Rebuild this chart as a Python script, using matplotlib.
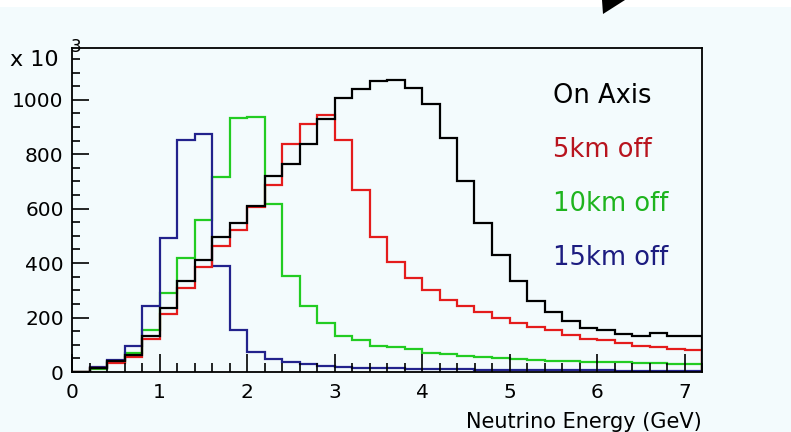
import numpy as np
import matplotlib.pyplot as plt
from matplotlib.ticker import MultipleLocator
from matplotlib.patches import Polygon, Rectangle

# Energy bins (GeV), 0.2 GeV wide
edges = np.round(np.arange(0, 7.2001, 0.2), 1)

# Neutrino counts per bin (x 10^3)
on_axis = [0, 14, 41, 63, 133, 235, 336, 410, 495, 548, 610, 720,
           764, 838, 930, 1005, 1038, 1070, 1072, 1042, 983, 859, 700, 547,
           430, 333, 259, 222, 186, 163, 155, 140, 134, 142, 134, 134]
off_5km = [0, 15, 33, 54, 121, 213, 310, 386, 464, 522, 605, 685,
           838, 910, 943, 853, 670, 494, 404, 345, 301, 265, 243, 222,
           198, 181, 167, 155, 137, 122, 117, 106, 95, 90, 86, 79]
off_10km = [0, 12, 38, 68, 155, 289, 420, 557, 715, 933, 937, 616,
            353, 241, 180, 133, 117, 97, 90, 84, 70, 65, 60, 56,
            52, 46, 44, 42, 40, 38, 37, 35, 34, 32, 31, 30]
off_15km = [0, 18, 45, 97, 243, 492, 852, 873, 389, 155, 75, 48,
            35, 29, 21, 17, 15, 14, 13, 12, 11, 10, 10, 9,
            9, 8, 8, 7, 7, 6, 6, 5, 5, 5, 4, 4]

labels = ["On Axis", "5km off", "10km off", "15km off"]
line_colors = ["black", "#e41c1c", "#22cc22", "#22228c"]
text_colors = ["black", "#b8141e", "#1eb41e", "#1c1c80"]

bg = "#f3fbfd"
fig = plt.figure(figsize=(7.91, 4.32), dpi=100, facecolor=bg)
ax = fig.add_axes([72/791, 60/432, 630/791, 324/432], facecolor=bg)

# draw order: black on top
ax.stairs(off_10km, edges, color=line_colors[2], linewidth=1.6)
ax.stairs(off_15km, edges, color=line_colors[3], linewidth=1.6)
ax.stairs(off_5km, edges, color=line_colors[1], linewidth=1.6)
ax.stairs(on_axis, edges, color=line_colors[0], linewidth=1.6)

ax.set_xlim(0, 7.2)
ax.set_ylim(0, 1190)

ax.xaxis.set_major_locator(MultipleLocator(1))
ax.xaxis.set_minor_locator(MultipleLocator(0.2))
ax.yaxis.set_major_locator(MultipleLocator(200))
ax.yaxis.set_minor_locator(MultipleLocator(50))
ax.tick_params(axis="x", which="major", direction="in", length=13, width=1.2,
               labelsize=14.5, pad=8, top=False)
ax.tick_params(axis="x", which="minor", direction="in", length=6.5, width=1.2, top=False)
ax.tick_params(axis="y", which="major", direction="in", length=12, width=1.2,
               labelsize=14.5, pad=6, right=False)
ax.tick_params(axis="y", which="minor", direction="in", length=6, width=1.2, right=False)
for s in ax.spines.values():
    s.set_linewidth(1.3)

# legend entries as coloured text
for i, (lab, c) in enumerate(zip(labels, text_colors)):
    ax.text(5.5, 1012 - i * 198, lab, color=c, fontsize=18.5, va="center", ha="left")

ax.text(7.2, -147, "Neutrino Energy (GeV)", fontsize=15, ha="right", va="top",
        clip_on=False)

# axis multiplier
fig.text(10/791, 1 - 66/432, "x 10", fontsize=16, ha="left", va="baseline")
fig.text(71/791, 1 - 52/432, "3", fontsize=12, ha="left", va="baseline")

# white strip and pointer wedge at the top edge
fig.patches.append(Rectangle((0, 1 - 7/432), 1, 7/432, transform=fig.transFigure,
                             facecolor="white", edgecolor="none"))
fig.patches.append(Polygon([[602/791, 1.0], [625/791, 1.0], [603/791, 1 - 14/432]],
                           closed=True, transform=fig.transFigure,
                           facecolor="black", edgecolor="none"))

fig.savefig("out.png", dpi=100, facecolor=bg)
